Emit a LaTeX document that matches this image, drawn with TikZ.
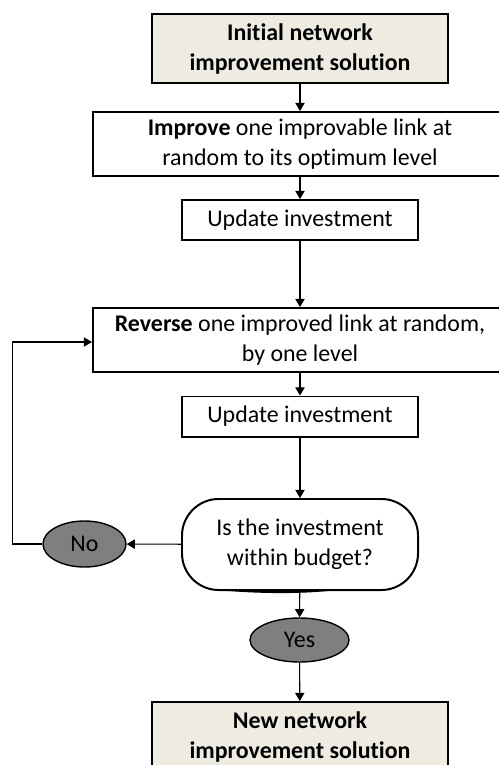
\documentclass[tikz,border=0pt]{standalone}
\usepackage{fontspec}
\setmainfont{Carlito}[Ligatures=NoCommon]
\usetikzlibrary{arrows.meta,shapes.geometric,calc}

\begin{document}
\begin{tikzpicture}[x=0.03cm,y=-0.03cm,font=\fontsize{20.4}{25.6}\selectfont,>={Triangle[length=7pt,width=8pt]},
  endbox/.style={draw,line width=1.7pt,fill=beige,minimum width=8.88cm,minimum height=2.07cm,align=center,font=\fontsize{20.4}{25.6}\selectfont\bfseries},
  wide/.style={draw,line width=1.7pt,minimum width=12.42cm,minimum height=1.92cm,align=center},
  updbox/.style={draw,line width=1.7pt,minimum width=7.08cm,minimum height=1.2cm,align=center},
  query/.style={draw,line width=1.7pt,rounded corners=1.1cm,minimum width=7.08cm,minimum height=2.73cm,align=center},
  answer/.style={ellipse,draw,line width=1.2pt,fill=answergray,inner sep=0pt},
  link/.style={line width=0.9pt,->}]
\definecolor{beige}{HTML}{EEEBE0}
\definecolor{answergray}{HTML}{7F7F7F}
\useasboundingbox (0,0) rectangle (498,765);
\node[endbox] (init) at (300,48.5) {Initial network\\improvement solution};
\node[wide] (imp) at (300,144) {\textbf{Improve} one improvable link at\\random to its optimum level};
\node[updbox] (upd1) at (300,220) {Update investment};
\node[wide] (rev) at (300,340) {\textbf{Reverse} one improved link at random,\\by one level};
\node[updbox] (upd2) at (300,416.5) {Update investment};
\node[query] (dec) at (300,544.5) {Is the investment\\within budget?};
\fill ($(dec.south)+(-88,-1.5)$) .. controls ($(dec.south)+(-40,3.5)$) and ($(dec.south)+(10,3)$) .. ($(dec.south)+(40,-1.5)$) -- cycle;
\node[answer,minimum width=2.49cm,minimum height=1.38cm] (no) at (84.5,544) {No};
\node[answer,minimum width=2.97cm,minimum height=1.32cm] (yes) at (299.5,640) {Yes};
\node[endbox] (new) at (300,736.5) {New network\\improvement solution};
\draw[link] (init)--(imp);
\draw[link] (imp)--(upd1);
\draw[link] (upd1)--(rev);
\draw[link] (rev)--(upd2);
\draw[link] (upd2)--(dec);
\draw[link] (dec)--(no);
\draw[link] (dec)--(yes);
\draw[link] (yes)--(new);
\draw[link] (no.west) -- ++(-30,0) |- ($(rev.west)+(0,2)$);
\end{tikzpicture}
\end{document}
